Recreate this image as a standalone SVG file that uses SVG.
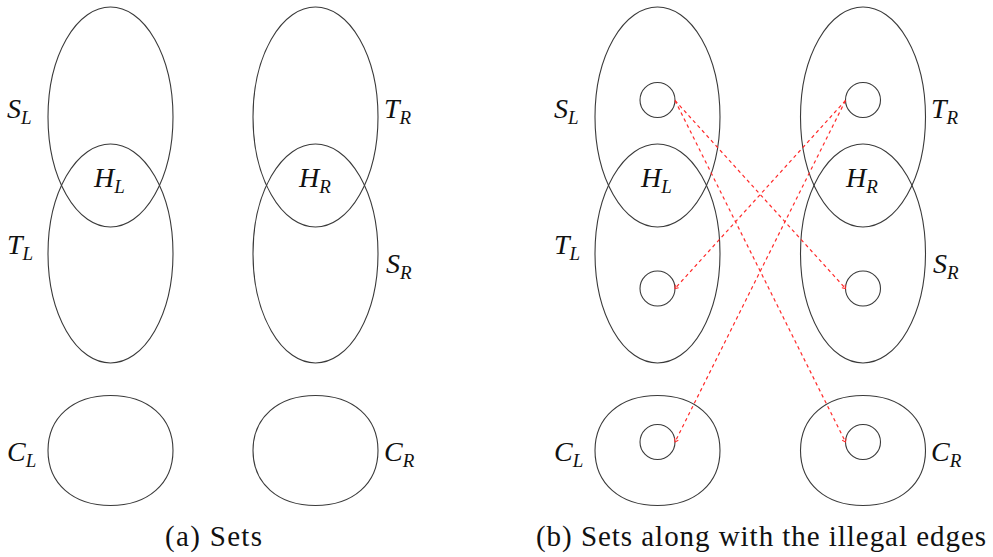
<svg xmlns="http://www.w3.org/2000/svg" width="993" height="557" viewBox="0 0 993 557">
<style>
.set{fill:none;stroke:#3a3a3a;stroke-width:1.1}
.lbl{font-family:"Liberation Serif",serif;font-style:italic;font-size:28px;fill:#111}
.sub{font-size:19px}
.cap{font-family:"Liberation Serif",serif;font-size:29px;fill:#111}
.edge{fill:none;stroke:#ff2a2a;stroke-width:1.2;stroke-dasharray:3.5 3.2}
</style>
<defs>
<marker id="tip" markerUnits="userSpaceOnUse" markerWidth="8" markerHeight="8" refX="0" refY="0" viewBox="-5 -4 6 8" orient="auto">
<path d="M-3,-2.2 L0,0 L-3,2.2" fill="none" stroke="#ff2a2a" stroke-width="1"/>
</marker>
</defs>
<rect width="993" height="557" fill="#fff"/>
<g id="panel-a">
<g id="a-SL"><ellipse class="set" cx="110.5" cy="117" rx="62.5" ry="110"/><text class="lbl" x="7" y="118">S<tspan class="sub" dy="6">L</tspan></text></g>
<g id="a-TL"><ellipse class="set" cx="110.5" cy="253.5" rx="62.5" ry="109.5"/><text class="lbl" x="7" y="254">T<tspan class="sub" dy="6">L</tspan></text></g>
<g id="a-HL"><text class="lbl" x="94" y="187">H<tspan class="sub" dy="6">L</tspan></text></g>
<g id="a-CL"><path class="set" d="M48,450.5 C48,417.5 73,395.5 110.5,395.5 C148,395.5 173,417.5 173,450.5 C173,483.5 148,505.5 110.5,505.5 C73,505.5 48,483.5 48,450.5 Z"/><text class="lbl" x="7" y="461">C<tspan class="sub" dy="6">L</tspan></text></g>
<g id="a-TR"><ellipse class="set" cx="315.5" cy="117" rx="62.5" ry="110"/><text class="lbl" x="384" y="118">T<tspan class="sub" dy="6">R</tspan></text></g>
<g id="a-SR"><ellipse class="set" cx="315.5" cy="253.5" rx="62.5" ry="109.5"/><text class="lbl" x="386" y="273">S<tspan class="sub" dy="6">R</tspan></text></g>
<g id="a-HR"><text class="lbl" x="299" y="187">H<tspan class="sub" dy="6">R</tspan></text></g>
<g id="a-CR"><path class="set" d="M253,450.5 C253,417.5 278,395.5 315.5,395.5 C353,395.5 378,417.5 378,450.5 C378,483.5 353,505.5 315.5,505.5 C278,505.5 253,483.5 253,450.5 Z"/><text class="lbl" x="384" y="461">C<tspan class="sub" dy="6">R</tspan></text></g>
<text id="cap-a" class="cap" x="165" y="546" textLength="97" lengthAdjust="spacing">(a) Sets</text>
</g>
<g id="panel-b">
<g id="b-SL"><ellipse class="set" cx="657.5" cy="117" rx="62.5" ry="110"/><text class="lbl" x="554" y="118">S<tspan class="sub" dy="6">L</tspan></text></g>
<g id="b-TL"><ellipse class="set" cx="657.5" cy="253.5" rx="62.5" ry="109.5"/><text class="lbl" x="554" y="254">T<tspan class="sub" dy="6">L</tspan></text></g>
<g id="b-HL"><text class="lbl" x="641" y="187">H<tspan class="sub" dy="6">L</tspan></text></g>
<g id="b-CL"><path class="set" d="M595,450.5 C595,417.5 620,395.5 657.5,395.5 C695,395.5 720,417.5 720,450.5 C720,483.5 695,505.5 657.5,505.5 C620,505.5 595,483.5 595,450.5 Z"/><text class="lbl" x="554" y="461">C<tspan class="sub" dy="6">L</tspan></text></g>
<g id="b-TR"><ellipse class="set" cx="863" cy="117" rx="62.5" ry="110"/><text class="lbl" x="931" y="118">T<tspan class="sub" dy="6">R</tspan></text></g>
<g id="b-SR"><ellipse class="set" cx="863" cy="253.5" rx="62.5" ry="109.5"/><text class="lbl" x="933" y="273">S<tspan class="sub" dy="6">R</tspan></text></g>
<g id="b-HR"><text class="lbl" x="846" y="187">H<tspan class="sub" dy="6">R</tspan></text></g>
<g id="b-CR"><path class="set" d="M800.5,450.5 C800.5,417.5 825.5,395.5 863,395.5 C900.5,395.5 925.5,417.5 925.5,450.5 C925.5,483.5 900.5,505.5 863,505.5 C825.5,505.5 800.5,483.5 800.5,450.5 Z"/><text class="lbl" x="931" y="461">C<tspan class="sub" dy="6">R</tspan></text></g>
<g id="v-L1"><circle class="set" cx="657.5" cy="100" r="17.5"/></g>
<g id="v-L2"><circle class="set" cx="657.5" cy="288.5" r="17.5"/></g>
<g id="v-L3"><circle class="set" cx="657.5" cy="442" r="17.5"/></g>
<g id="v-R1"><circle class="set" cx="863" cy="100" r="17.5"/></g>
<g id="v-R2"><circle class="set" cx="863" cy="288.5" r="17.5"/></g>
<g id="v-R3"><circle class="set" cx="863" cy="442" r="17.5"/></g>
<text id="cap-b" class="cap" x="536" y="546" textLength="450" lengthAdjust="spacing">(b) Sets along with the illegal edges</text>
</g>
<g id="connectors">
<line class="edge" x1="675" y1="100.5" x2="845.5" y2="288.5" marker-end="url(#tip)"/>
<line class="edge" x1="675" y1="100.5" x2="845.5" y2="442" marker-end="url(#tip)"/>
<line class="edge" x1="845.5" y1="100.5" x2="675" y2="288.5" marker-end="url(#tip)"/>
<line class="edge" x1="845.5" y1="100.5" x2="675" y2="442" marker-end="url(#tip)"/>
</g>
</svg>
